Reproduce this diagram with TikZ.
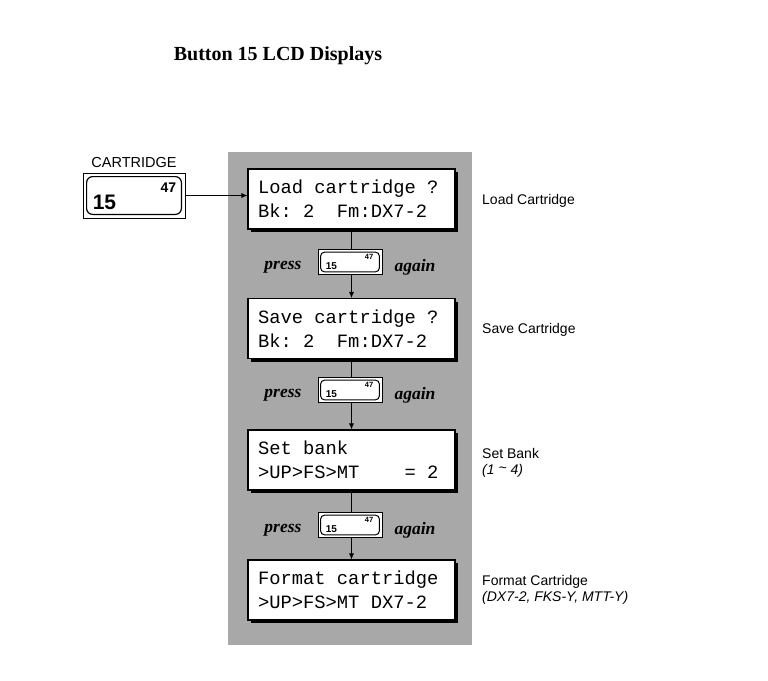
\documentclass[tikz,border=0pt]{standalone}
\usepackage{fontspec}
\setmainfont{Liberation Serif}
\setsansfont{Liberation Sans}
\setmonofont{Liberation Mono}
\usetikzlibrary{arrows.meta, positioning, shadows, calc}

% one character cell of the LCD font
\newcommand\lcdgap{\phantom{0}}

\tikzset{
  panel/.style={fill=black!34},
  lcd/.style={draw=black, fill=white, line width=1.1pt, text width=187pt, inner xsep=10pt,
    minimum height=60pt, align=left, font=\ttfamily\fontsize{18.8}{24}\selectfont,
    drop shadow={shadow xshift=3pt, shadow yshift=-3pt, fill=black, opacity=1}},
  bigbtn/.style={draw=black, fill=white, line width=0.8pt, minimum width=102pt, minimum height=45pt, inner sep=0pt},
  smallbtn/.style={draw=black, fill=white, line width=0.8pt, minimum width=64pt, minimum height=25pt, inner sep=0pt},
  btnface/.style={draw=black, line width=1.2pt, rounded corners=6pt},
  flow/.style={-{Latex[length=6pt,width=5pt]}, line width=0.7pt},
  press/.style={font=\bfseries\itshape\fontsize{17.5}{20}\selectfont, inner sep=0pt},
  side/.style={anchor=west, align=left, inner sep=0pt, font=\sffamily\fontsize{14}{16}\selectfont},
}

\begin{document}
\begin{tikzpicture}[x=1pt,y=-1pt]
    \useasboundingbox (0,0) rectangle (768,680);

    % Title
    \node[font=\bfseries\fontsize{20}{23}\selectfont] (head) at (278,56) {Button 15 LCD Displays};

    % Gray panel
    \fill[panel] (228,152) rectangle (472,645);

    % Cartridge button
    \node[bigbtn] (cart) at (134,195.5) {};
    \draw[btnface] ($(cart.south west)+(4,-4)$) rectangle ($(cart.north east)+(-4,4)$);
    \node[font=\sffamily\bfseries\fontsize{21}{21}\selectfont, inner sep=0pt, anchor=south west] (cart15) at ($(cart.south west)+(10,-8)$) {15};
    \node[font=\sffamily\bfseries\fontsize{14}{14}\selectfont, inner sep=0pt, anchor=north east] (cart47) at ($(cart.north east)+(-9,10)$) {47};
    \node[font=\sffamily\fontsize{14.5}{16}\selectfont, inner sep=0pt] (cartlbl) at (134,163) {CARTRIDGE};

    % LCD displays
    \foreach \n/\y/\txt in {1/199/{Load\lcdgap cartridge\lcdgap ?\\Bk:\lcdgap 2\lcdgap\lcdgap Fm:DX7-2},
                           2/328.5/{Save\lcdgap cartridge\lcdgap ?\\Bk:\lcdgap 2\lcdgap\lcdgap Fm:DX7-2},
                           3/460/{Set\lcdgap bank\\>UP>FS>MT\lcdgap\lcdgap\lcdgap\lcdgap =\lcdgap 2},
                           4/590/{Format\lcdgap cartridge\\>UP>FS>MT\lcdgap DX7-2}} {
        \node[lcd] (lcd\n) at (351.5,\y) {\txt};
    }

    % Connectors
    \draw[flow] (cart.east) -- (cart.east -| lcd1.west);
    \foreach \a/\b in {1/2, 2/3, 3/4} {
        \draw[flow] (lcd\a.south) -- (lcd\b.north);
    }

    % press 15 again
    \foreach \k/\y in {1/262, 2/390, 3/525} {
        \node[smallbtn] (btn\k) at (350,\y) {};
        \draw[btnface, rounded corners=4pt, line width=1pt] ($(btn\k.south west)+(3,-3)$) rectangle ($(btn\k.north east)+(-3,3)$);
        \node[font=\sffamily\bfseries\fontsize{10}{10}\selectfont, inner sep=0pt, anchor=south west] (num\k) at ($(btn\k.south west)+(8,-5)$) {15};
        \node[font=\sffamily\bfseries\fontsize{7.5}{8}\selectfont, inner sep=0pt, anchor=north east] (sub\k) at ($(btn\k.north east)+(-9,5)$) {47};
        \node[press, anchor=east] (press\k) at ($(btn\k.west)+(-16,5)$) {press};
        \node[press, anchor=west] (again\k) at ($(btn\k.east)+(12,5)$) {again};
    }

    % Labels
    \node[side] (lbl1) at (482,201) {Load Cartridge};
    \node[side] (lbl2) at (482,330) {Save Cartridge};
    \node[side, anchor=north west] (lbl3) at (482,448) {Set Bank\\\textit{(1 \raisebox{0.2ex}{\char`\~} 4)}};
    \node[side, anchor=north west] (lbl4) at (482,575) {Format Cartridge\\\textit{(DX7-2, FKS-Y, MTT-Y)}};
\end{tikzpicture}
\end{document}
